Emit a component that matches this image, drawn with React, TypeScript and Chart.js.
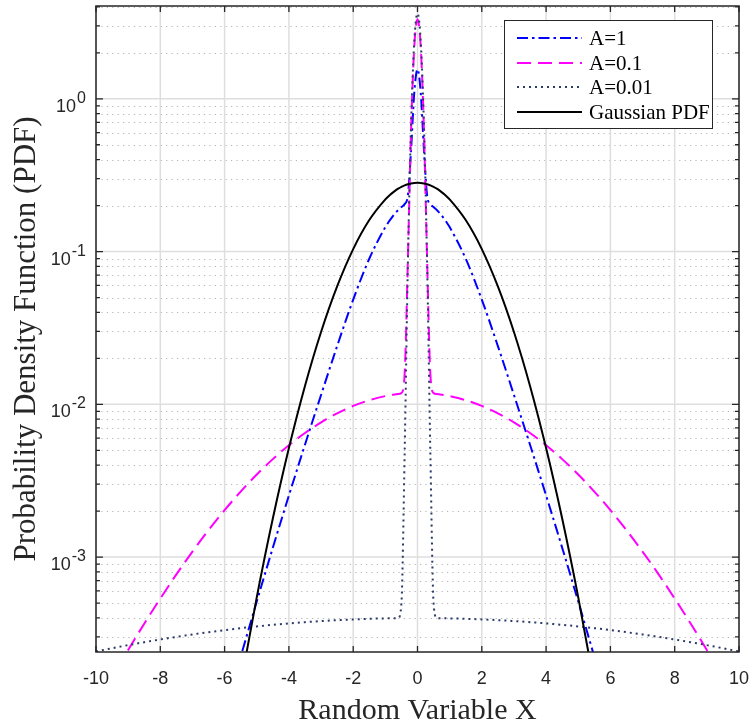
import React, { useEffect, useRef } from "react";
import { Chart, registerables } from "chart.js";

Chart.register(...registerables);

// ---------- data ----------
const xValues = [
  -10, -9.5, -9, -8.5, -8, -7.5, -7, -6.5, -6, -5.5, -5, -4.5, -4, -3.5, -3, -2.5, -2, -1.5, -1,
  -0.9, -0.8, -0.7, -0.6, -0.5, -0.4, -0.3, -0.2, -0.1, 0, 0.1, 0.2, 0.3, 0.4, 0.5, 0.6, 0.7, 0.8, 0.9,
  1, 1.5, 2, 2.5, 3, 3.5, 4, 4.5, 5, 5.5, 6, 6.5, 7, 7.5, 8, 8.5, 9, 9.5, 10,
];

const pdfA1 = [
  null, null, null, null, null, null, null, null, 0.0000952, 0.0002224, 0.000511, 0.001151, 0.00253, 0.00544, 0.01151, 0.02405, 0.04848, 0.08973, 0.1446,
  0.156, 0.1669, 0.1773, 0.1869, 0.1954, 0.2043, 0.232, 0.4634, 1.099, 1.562, 1.099, 0.4634, 0.232, 0.2043, 0.1954, 0.1869, 0.1773, 0.1669, 0.156,
  0.1446, 0.08973, 0.04848, 0.02405, 0.01151, 0.00544, 0.00253, 0.001151, 0.000511, 0.0002224, 0.0000952, null, null, null, null, null, null, null, null,
];

const pdfA01 = [
  0.000108, 0.000163, 0.000246, 0.000366, 0.000535, 0.00077, 0.001086, 0.0015, 0.002028, 0.002683, 0.003468, 0.004376, 0.005394, 0.006489, 0.007617, 0.008733, 0.009755, 0.01064, 0.01132,
  0.01143, 0.01152, 0.01161, 0.01169, 0.01184, 0.01578, 0.0873, 0.628, 2.186, 3.321, 2.186, 0.628, 0.0873, 0.01578, 0.01184, 0.01169, 0.01161, 0.01152, 0.01143,
  0.01132, 0.01064, 0.009755, 0.008733, 0.007617, 0.006489, 0.005394, 0.004376, 0.003468, 0.002683, 0.002028, 0.0015, 0.001086, 0.00077, 0.000535, 0.000366, 0.000246, 0.000163, 0.000108,
];

const pdfA001 = [
  0.0002408, 0.000253, 0.0002651, 0.000277, 0.0002887, 0.0003002, 0.0003114, 0.0003222, 0.0003325, 0.0003423, 0.0003515, 0.00036, 0.0003678, 0.0003748, 0.000381, 0.0003863, 0.0003907, 0.0003942, 0.0003967,
  0.0003971, 0.0003976, 0.000398, 0.0003991, 0.0004974, 0.004754, 0.0829, 0.6744, 2.378, 3.62, 2.378, 0.6744, 0.0829, 0.004754, 0.0004974, 0.0003991, 0.000398, 0.0003976, 0.0003971,
  0.0003967, 0.0003942, 0.0003907, 0.0003863, 0.000381, 0.0003748, 0.0003678, 0.00036, 0.0003515, 0.0003423, 0.0003325, 0.0003222, 0.0003114, 0.0003002, 0.0002887, 0.000277, 0.0002651, 0.000253, 0.0002408,
];

const pdfGauss = [
  null, null, null, null, null, null, null, null, 0.0000348, 0.0001467, 0.0005446, 0.001786, 0.005167, 0.01319, 0.02973, 0.05913, 0.1038, 0.1607, 0.2197,
  0.2304, 0.2404, 0.2496, 0.2578, 0.265, 0.271, 0.2758, 0.2793, 0.2814, 0.2821, 0.2814, 0.2793, 0.2758, 0.271, 0.265, 0.2578, 0.2496, 0.2404, 0.2304,
  0.2197, 0.1607, 0.1038, 0.05913, 0.02973, 0.01319, 0.005167, 0.001786, 0.0005446, 0.0001467, 0.0000348, null, null, null, null, null, null, null, null,
];

const seriesLabels = ["A=1", "A=0.1", "A=0.01", "Gaussian PDF"];
const xTicks = [-10, -8, -6, -4, -2, 0, 2, 4, 6, 8, 10];
const yDecades = [-4, -3, -2, -1, 0];
const yLabelDecades = [-3, -2, -1, 0];
const xMin = -10;
const xMax = 10;
const yMin = 2.39e-4;
const yMax = 4.05;
const xTitle = "Random Variable X";
const yTitle = "Probability Density Function (PDF)";

// ---------- styles ----------
const styles = [
  { color: "#0000ff", dash: [11, 4, 2.5, 4], width: 2 },
  { color: "#ff00ff", dash: [14, 7], width: 2 },
  { color: "#2b3a67", dash: [2, 4], width: 2 },
  { color: "#000000", dash: [], width: 2 },
];
const seriesValues = [pdfA1, pdfA01, pdfA001, pdfGauss];

const AXIS_COLOR = "#262626";
const SANS = "'Liberation Sans', Arial, Helvetica, sans-serif";
const SERIF = "'Liberation Serif', 'Times New Roman', Times, serif";

const matlabPlugin = {
  id: "matlabAxes",
  beforeDatasetsDraw(chart: any) {
    const { ctx, chartArea: a } = chart;
    const xs = chart.scales.x;
    const ys = chart.scales.y;
    ctx.save();
    // minor y grid (dotted)
    ctx.lineWidth = 1;
    ctx.strokeStyle = "#b5b5b5";
    ctx.setLineDash([1.2, 4.2]);
    for (const d of yDecades) {
      for (let k = 2; k <= 9; k++) {
        const v = k * Math.pow(10, d);
        if (v <= yMin || v >= yMax) continue;
        const y = Math.round(ys.getPixelForValue(v)) + 0.5;
        ctx.beginPath();
        ctx.moveTo(a.left, y);
        ctx.lineTo(a.right, y);
        ctx.stroke();
      }
    }
    // major grid (solid light)
    ctx.setLineDash([]);
    ctx.strokeStyle = "#dedede";
    ctx.lineWidth = 1.5;
    for (const d of yDecades) {
      const v = Math.pow(10, d);
      if (v <= yMin || v >= yMax) continue;
      const y = ys.getPixelForValue(v);
      ctx.beginPath();
      ctx.moveTo(a.left, y);
      ctx.lineTo(a.right, y);
      ctx.stroke();
    }
    for (const t of xTicks) {
      const x = xs.getPixelForValue(t);
      ctx.beginPath();
      ctx.moveTo(x, a.top);
      ctx.lineTo(x, a.bottom);
      ctx.stroke();
    }
    ctx.restore();
  },
  afterDatasetsDraw(chart: any) {
    const { ctx, chartArea: a } = chart;
    const xs = chart.scales.x;
    const ys = chart.scales.y;
    ctx.save();
    ctx.setLineDash([]);
    ctx.strokeStyle = AXIS_COLOR;
    ctx.lineWidth = 1.5;
    // box
    ctx.strokeRect(a.left, a.top, a.right - a.left, a.bottom - a.top);
    // x ticks (inside, top and bottom)
    ctx.lineWidth = 1.3;
    for (const t of xTicks) {
      const x = xs.getPixelForValue(t);
      ctx.beginPath();
      ctx.moveTo(x, a.bottom);
      ctx.lineTo(x, a.bottom - 6);
      ctx.moveTo(x, a.top);
      ctx.lineTo(x, a.top + 6);
      ctx.stroke();
    }
    // y ticks major + minor
    for (const d of yDecades) {
      for (let k = 1; k <= 9; k++) {
        const v = k * Math.pow(10, d);
        if (v <= yMin || v >= yMax) continue;
        const y = ys.getPixelForValue(v);
        const len = k === 1 ? 7 : 4;
        ctx.beginPath();
        ctx.moveTo(a.left, y);
        ctx.lineTo(a.left + len, y);
        ctx.moveTo(a.right, y);
        ctx.lineTo(a.right - len, y);
        ctx.stroke();
      }
    }
    // x tick labels
    ctx.fillStyle = AXIS_COLOR;
    ctx.font = `18px ${SANS}`;
    ctx.textAlign = "center";
    ctx.textBaseline = "alphabetic";
    for (const t of xTicks) {
      const x = xs.getPixelForValue(t);
      ctx.fillText(String(t), x, a.bottom + 32);
    }
    // y tick labels 10^n
    ctx.textAlign = "left";
    for (const d of yLabelDecades) {
      const y = ys.getPixelForValue(Math.pow(10, d));
      ctx.font = `18px ${SANS}`;
      const baseW = ctx.measureText("10").width;
      ctx.font = `16px ${SANS}`;
      const exp = String(d);
      const supW = ctx.measureText(exp).width;
      const right = a.left - 10;
      const x0 = right - supW - baseW - 1;
      ctx.font = `18px ${SANS}`;
      ctx.fillText("10", x0, y + 13);
      ctx.font = `16px ${SANS}`;
      ctx.fillText(exp, x0 + baseW + 1, y + 4);
    }
    // axis titles
    ctx.fillStyle = AXIS_COLOR;
    ctx.font = `30px ${SERIF}`;
    ctx.textAlign = "center";
    ctx.fillText(xTitle, (a.left + a.right) / 2, 719);
    ctx.save();
    ctx.translate(35, 339);
    ctx.rotate(-Math.PI / 2);
    ctx.font = `31px ${SERIF}`;
    ctx.fillText(yTitle, 0, 0);
    ctx.restore();

    // legend
    const lx = 504, ly = 20, lw = 208, lh = 108;
    ctx.fillStyle = "#ffffff";
    ctx.fillRect(lx, ly, lw, lh);
    ctx.strokeStyle = AXIS_COLOR;
    ctx.lineWidth = 1;
    ctx.strokeRect(lx + 0.5, ly + 0.5, lw, lh);
    const rows = [38, 63, 87, 112];
    chart.data.datasets.forEach((ds: any, i: number) => {
      const yy = rows[i];
      ctx.save();
      ctx.strokeStyle = ds.borderColor;
      ctx.lineWidth = ds.borderWidth;
      ctx.setLineDash(ds.borderDash || []);
      ctx.beginPath();
      ctx.moveTo(517, yy);
      ctx.lineTo(582, yy);
      ctx.stroke();
      ctx.restore();
      ctx.fillStyle = "#000000";
      ctx.font = `21px ${SERIF}`;
      ctx.textAlign = "left";
      ctx.textBaseline = "middle";
      ctx.fillText(ds.label, 589, yy + 1);
    });
    ctx.restore();
  },
};

export default function App() {
  const canvasRef = useRef<HTMLCanvasElement | null>(null);

  useEffect(() => {
    const canvas = canvasRef.current;
    if (!canvas) return;
    const datasets = seriesValues.map((vals, i) => ({
      label: seriesLabels[i],
      data: xValues.map((x, j) => ({ x, y: vals[j] })),
      borderColor: styles[i].color,
      backgroundColor: styles[i].color,
      borderWidth: styles[i].width,
      borderDash: styles[i].dash,
      pointRadius: 0,
      cubicInterpolationMode: "monotone",
      fill: false,
      spanGaps: false,
      order: 4 - i,
    }));
    const chart = new Chart(canvas, {
      type: "line",
      data: { datasets },
      options: {
        responsive: false,
        animation: false,
        devicePixelRatio: 1,
        layout: { padding: { left: 96, right: 13, top: 6, bottom: 72 } },
        scales: {
          x: { type: "linear", min: xMin, max: xMax, display: false },
          y: { type: "logarithmic", min: yMin, max: yMax, display: false },
        },
        plugins: {
          legend: { display: false },
          tooltip: { enabled: false },
        },
      },
      plugins: [matlabPlugin],
    } as any);
    return () => chart.destroy();
  }, []);

  return (
    <div style={{ position: "absolute", left: 0, top: 0, width: 752, height: 724, background: "#ffffff" }}>
      <canvas ref={canvasRef} width={752} height={724} />
    </div>
  );
}
